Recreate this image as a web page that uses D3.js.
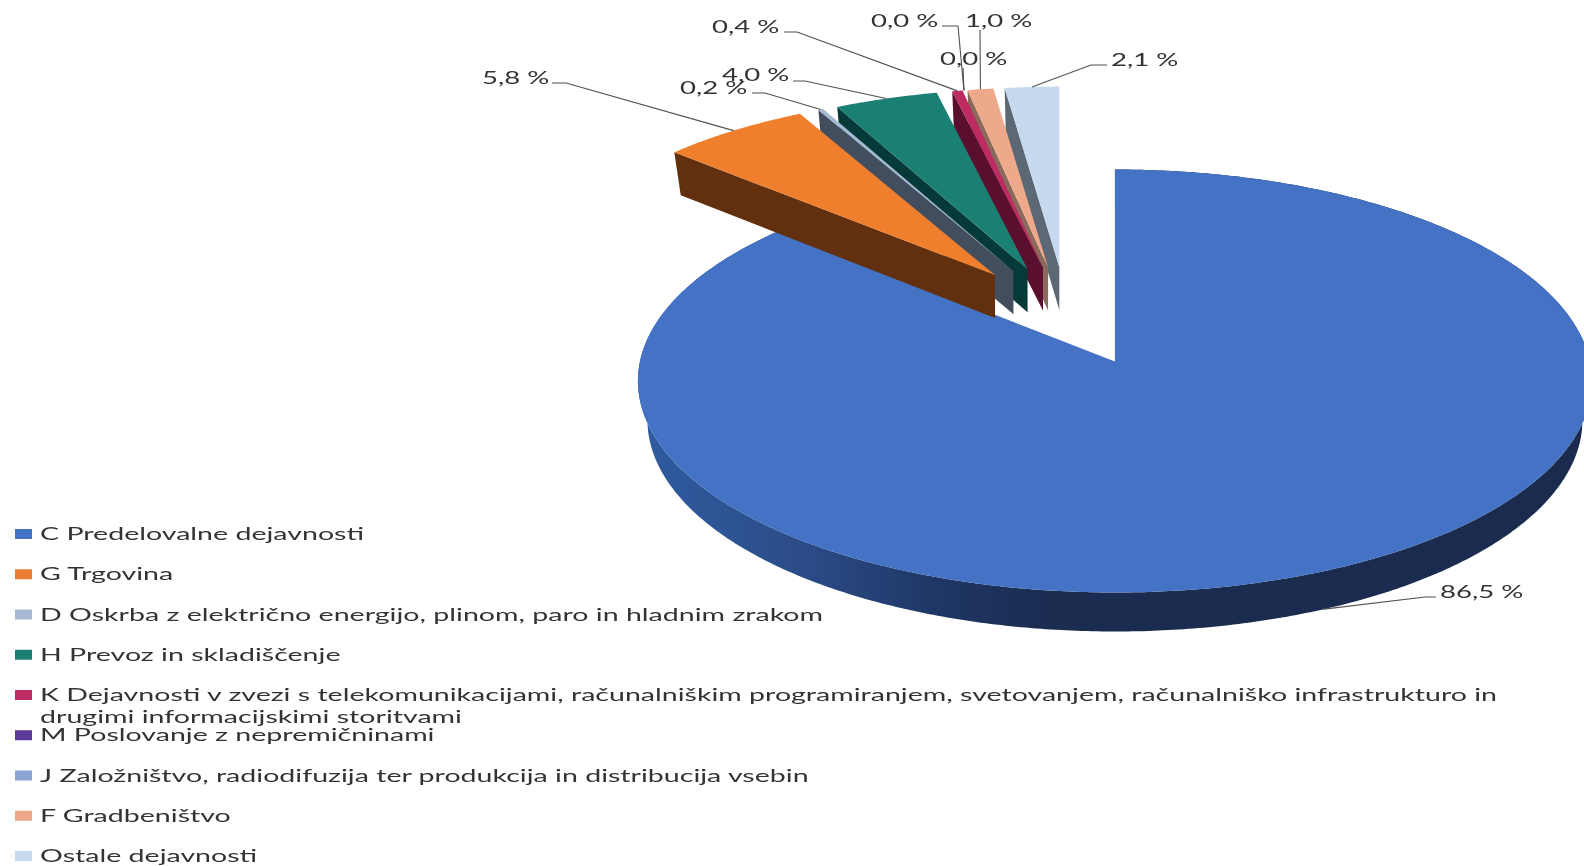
<!DOCTYPE html>
<html><head><meta charset="utf-8">
<script src="https://cdn.jsdelivr.net/npm/d3@7"></script>
<style>html,body{margin:0;padding:0;background:#fff;overflow:hidden}svg{display:block;filter:blur(0.4px)}text{font-family:Lato,"Open Sans",sans-serif;fill:#333}</style>
</head><body><svg id="c" width="1584" height="866"></svg>
<script>
const categories = ["C Predelovalne dejavnosti","G Trgovina","D Oskrba z električno energijo, plinom, paro in hladnim zrakom","H Prevoz in skladiščenje","K Dejavnosti v zvezi s telekomunikacijami, računalniškim programiranjem, svetovanjem, računalniško infrastrukturo in|drugimi informacijskimi storitvami","M Poslovanje z nepremičninami","J Založništvo, radiodifuzija ter produkcija in distribucija vsebin","F Gradbeništvo","Ostale dejavnosti"];
const values = [86.5,5.8,0.2,4.0,0.4,0.0,0.0,1.0,2.1];
const topColors = ["#4472c4","#f07f2d","#a5b9d3","#1b8074","#bd2b62","#5b3a9a","#8ea4d4","#eea98a","#c6d9ee"];
const swatchColors = ["#4472c4","#ed7d31","#a5b9d3","#1b8074","#bd2b62","#5b3a9a","#8ea4d4","#eea98a","#c6d9ee"];
const wallColors = ["url(#rim)","#63300f","#424e5e","#063a38","#5a0f2e","#3a2560","#55648a","#8a6a5a","#5c6873"];
// label placement: text start, baseline, leader start, leader elbow
const labelLayout = [
 {x:1440,y:598,sx:1436,sy:597,ex:1425,ey:597},
 {x:482,y:84,sx:552,sy:83,ex:566,ey:83},
 {x:680,y:94,sx:752,sy:93,ex:765,ey:93},
 {x:722,y:81,sx:793,sy:81,ex:805,ey:81},
 {x:712,y:33,sx:784,sy:32,ex:797,ey:32},
 {x:871,y:27,sx:942,sy:26,ex:958,ey:26},
 {x:940,y:65,sx:963,sy:68,ex:963,ey:68},
 {x:965,y:27,sx:980,sy:30,ex:980,ey:30},
 {x:1111,y:66,sx:1107,sy:65,ex:1091,ey:65}
];
const W=1584,H=866;
const R=475, Ry=209.7, persp=0.0922;
const pieCx=1067, pieCy=305, expX=116.5, expFar=38, expNear=62;
const depthMain=39, depthExp=43, baseScale=0.98;
const valueScale=1.53, legendScale=1.68;

const svg=d3.select("#c");
const defs=svg.append("defs");
const g=defs.append("linearGradient").attr("id","rim").attr("gradientUnits","userSpaceOnUse")
  .attr("x1",638).attr("x2",1584).attr("y1",0).attr("y2",0);
[[0,"#2f5ca0"],[0.175,"#2c4c88"],[0.305,"#1f3867"],[0.435,"#1a2c50"],[1,"#1a2b4e"]]
  .forEach(s=>g.append("stop").attr("offset",s[0]).attr("stop-color",s[1]));

const arcs=d3.pie().sort(null).startAngle(0).endAngle(2*Math.PI)(values);
const line=d3.line();

function geom(a,i){
  const mid=(a.startAngle+a.endAngle)/2, near=Math.cos(mid)<0;
  const cx=pieCx+expX*Math.sin(mid), cy=pieCy-(near?expNear:expFar)*Math.cos(mid);
  const kx=near?1:0.955, ky=near?1:0.94;
  const pt=t=>{const X=Math.sin(t),Y=Math.cos(t),f=1/(1+persp*Y);
    return [cx+X*R*f*kx, cy-Y*Ry*f*ky];};
  const depth=near?depthMain:depthExp;
  const down=p=>[cx+(p[0]-cx)*baseScale,p[1]+depth];
  return {cx,cy,pt,mid,depth,down,near};
}
const samples=(a)=>{const n=Math.max(2,Math.ceil((a.endAngle-a.startAngle)/0.01));
  return d3.range(n+1).map(i=>a.startAngle+(a.endAngle-a.startAngle)*i/n);};

const order=[0,8,7,6,5,4,3,2,1];
const plot=svg.append("g");
order.forEach(i=>{
  const a=arcs[i], s=geom(a,i);
  if(a.endAngle-a.startAngle<=0) return;
  const rim=samples(a).map(s.pt);
  if(s.near){
    const wall=rim.concat(rim.slice().reverse().map(s.down));
    plot.append("path").attr("d",line(wall)+"Z").attr("fill",wallColors[i]);
  } else {
    const c=[s.cx,s.cy], p=rim[0];
    const wall=[c,p,s.down(p),s.down(c)];
    plot.append("path").attr("d",line(wall)+"Z").attr("fill",wallColors[i]);
  }
  plot.append("path").attr("d",line([[s.cx,s.cy]].concat(rim))+"Z").attr("fill",topColors[i]);
});

// leaders + value labels
const fmt=d3.format(".1f");
arcs.forEach((a,i)=>{
  const s=geom(a,i), L=labelLayout[i], e=s.pt(s.mid);
  const end=s.near?s.down(e):e;
  svg.append("path").attr("d",line([[L.sx,L.sy],[L.ex,L.ey],end])).attr("fill","none")
    .attr("stroke","#505050").attr("stroke-width",1.1);
});
arcs.forEach((a,i)=>{
  const L=labelLayout[i];
  svg.append("text").attr("transform",`translate(${L.x},${L.y}) scale(${valueScale},1)`)
    .attr("font-size",18).text(fmt(values[i]).replace(".",",")+" %");
});

// legend
const legendY=d3.scaleLinear().domain([0,8]).range([534,856]);
categories.forEach((c,i)=>{
  const y=legendY(i);
  svg.append("rect").attr("x",15).attr("y",y-5).attr("width",17).attr("height",10).attr("fill",swatchColors[i]);
  c.split("|").forEach((t,k)=>{
    svg.append("text").attr("transform",`translate(40,${y+6+k*22}) scale(${legendScale},1)`)
      .attr("font-size",17).text(t);
  });
});
</script></body></html>
